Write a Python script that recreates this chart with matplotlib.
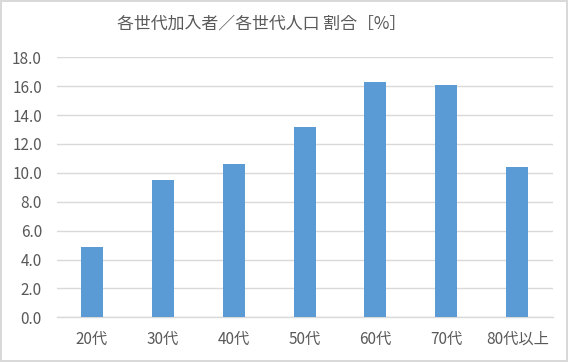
import matplotlib.pyplot as plt

plt.rcParams['font.family'] = ['Noto Sans CJK JP', 'DejaVu Sans']

# データ
categories = ['20代', '30代', '40代', '50代', '60代', '70代', '80代以上']
values = [4.9, 9.5, 10.6, 13.2, 16.3, 16.1, 10.4]
yticks = [0, 2, 4, 6, 8, 10, 12, 14, 16, 18]

text_color = '#595959'
grid_color = '#d9d9d9'
bar_color = '#5b9bd5'

fig = plt.figure(figsize=(5.68, 3.62), dpi=100, edgecolor=grid_color, linewidth=1.5)
ax = fig.add_axes([0.0995, 0.1235, 0.8735, 0.7182])

x = range(len(categories))
ax.bar(x, values, width=0.31, color=bar_color, zorder=3)

ax.set_xlim(-0.5, len(categories) - 0.5)
ax.set_ylim(0, 18)
ax.set_yticks(yticks)
ax.set_yticklabels([f'{v:.1f}' for v in yticks])
ax.set_xticks(list(x))
ax.set_xticklabels(categories)

ax.grid(axis='y', color=grid_color, linewidth=1, zorder=0)
for s in ['top', 'right', 'left']:
    ax.spines[s].set_visible(False)
ax.spines['bottom'].set_color(grid_color)
ax.spines['bottom'].set_linewidth(1)

ax.tick_params(axis='y', length=0, pad=10.5, labelsize=11, labelcolor=text_color)
ax.tick_params(axis='x', length=0, pad=10, labelsize=11, labelcolor=text_color)

fig.text(262 / 568, 1 - 24 / 362, '各世代加入者／各世代人口 割合［%］',
         ha='center', va='center', fontsize=12.2, color=text_color)

fig.savefig('out.png', dpi=100, edgecolor=fig.get_edgecolor())
